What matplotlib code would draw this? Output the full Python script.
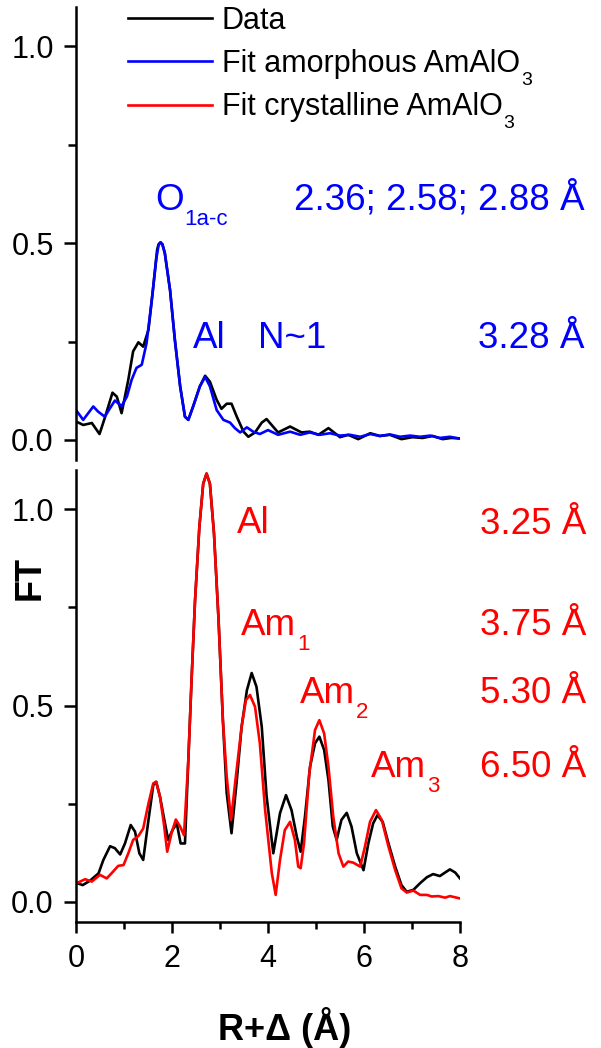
import numpy as np
import matplotlib
matplotlib.use("Agg")
import matplotlib.pyplot as plt
from matplotlib.ticker import MultipleLocator, FormatStrFormatter

plt.rcParams['font.family'] = ['Liberation Sans', 'DejaVu Sans']

# ---- Amorphous sample: data and fit (upper panel) ----
r_top_data = [0.00, 0.15, 0.33, 0.49, 0.60, 0.76, 0.85, 0.95, 1.09, 1.19, 1.30, 1.40,
              1.51, 1.61, 1.69, 1.72, 1.76, 1.80, 1.85, 1.96, 2.06, 2.17, 2.27, 2.34,
              2.44, 2.58, 2.69, 2.79, 2.93, 3.03, 3.14, 3.24, 3.35, 3.49, 3.59, 3.73,
              3.87, 3.97, 4.21, 4.46, 4.70, 4.87, 5.05, 5.26, 5.50, 5.67, 5.88, 6.13,
              6.33, 6.54, 6.78, 7.01, 7.22, 7.43, 7.64, 7.81, 8.00]
ft_top_data = [0.047, 0.038, 0.043, 0.015, 0.056, 0.120, 0.110, 0.068, 0.153, 0.225, 0.248, 0.237,
               0.280, 0.390, 0.483, 0.497, 0.502, 0.497, 0.475, 0.380, 0.254, 0.136, 0.059, 0.051,
               0.085, 0.136, 0.163, 0.148, 0.102, 0.079, 0.092, 0.092, 0.059, 0.021, 0.008, 0.019,
               0.044, 0.053, 0.019, 0.034, 0.019, 0.021, 0.013, 0.030, 0.007, 0.013, 0.002, 0.017,
               0.010, 0.013, 0.002, 0.007, 0.005, 0.010, 0.002, 0.005, 0.004]

r_top_fit = [0.00, 0.15, 0.36, 0.46, 0.60, 0.71, 0.81, 0.95, 1.06, 1.16, 1.26, 1.37,
             1.47, 1.58, 1.67, 1.72, 1.76, 1.80, 1.85, 1.96, 2.06, 2.17, 2.27, 2.34,
             2.44, 2.58, 2.69, 2.79, 2.93, 3.07, 3.21, 3.31, 3.42, 3.56, 3.69, 3.83,
             4.00, 4.21, 4.46, 4.67, 4.87, 5.08, 5.29, 5.50, 5.71, 5.92, 6.13, 6.33,
             6.54, 6.75, 6.96, 7.17, 7.38, 7.58, 7.79, 8.00]
ft_top_fit = [0.076, 0.051, 0.085, 0.072, 0.059, 0.081, 0.100, 0.086, 0.110, 0.153, 0.183, 0.191,
              0.246, 0.356, 0.458, 0.495, 0.502, 0.497, 0.475, 0.380, 0.254, 0.136, 0.059, 0.051,
              0.085, 0.136, 0.160, 0.136, 0.076, 0.051, 0.044, 0.030, 0.019, 0.032, 0.021, 0.015,
              0.025, 0.013, 0.021, 0.013, 0.019, 0.013, 0.017, 0.011, 0.013, 0.008, 0.015, 0.010,
              0.014, 0.008, 0.011, 0.008, 0.011, 0.005, 0.008, 0.003]

# ---- Crystalline sample: data and fit (lower panel) ----
r_bot_data = [0.00, 0.14, 0.29, 0.47, 0.57, 0.71, 0.81, 0.92, 1.02, 1.14, 1.23, 1.32,
              1.40, 1.51, 1.61, 1.67, 1.75, 1.84, 1.92, 2.01, 2.10, 2.18, 2.27, 2.34,
              2.41, 2.48, 2.57, 2.65, 2.72, 2.79, 2.875, 2.97, 3.06, 3.14, 3.24, 3.35,
              3.45, 3.56, 3.66, 3.76, 3.87, 3.97, 4.11, 4.25, 4.375, 4.49, 4.60, 4.68,
              4.77, 4.875, 4.98, 5.07, 5.17, 5.26, 5.35, 5.43, 5.53, 5.64, 5.74, 5.85,
              5.99, 6.09, 6.19, 6.28, 6.39, 6.51, 6.65, 6.78, 6.89, 7.03, 7.17, 7.31,
              7.44, 7.58, 7.69, 7.79, 7.90, 8.00]
ft_bot_data = [0.049, 0.043, 0.054, 0.073, 0.107, 0.142, 0.137, 0.121, 0.149, 0.196, 0.179, 0.124,
               0.107, 0.209, 0.298, 0.306, 0.268, 0.209, 0.158, 0.183, 0.200, 0.149, 0.149, 0.361,
               0.573, 0.768, 0.955, 1.065, 1.091, 1.065, 0.938, 0.718, 0.463, 0.277, 0.175, 0.310,
               0.446, 0.539, 0.583, 0.548, 0.446, 0.270, 0.124, 0.226, 0.272, 0.234, 0.166, 0.128,
               0.217, 0.344, 0.404, 0.421, 0.387, 0.310, 0.192, 0.158, 0.209, 0.227, 0.192, 0.124,
               0.081, 0.149, 0.200, 0.221, 0.204, 0.149, 0.090, 0.043, 0.026, 0.031, 0.048, 0.063,
               0.071, 0.066, 0.075, 0.083, 0.075, 0.060]

r_bot_fit = [0.00, 0.19, 0.33, 0.50, 0.64, 0.74, 0.88, 0.99, 1.09, 1.19, 1.30, 1.40,
             1.51, 1.61, 1.67, 1.75, 1.83, 1.90, 1.99, 2.08, 2.17, 2.25, 2.34, 2.41,
             2.48, 2.57, 2.65, 2.72, 2.79, 2.875, 2.97, 3.06, 3.14, 3.23, 3.33, 3.45,
             3.54, 3.625, 3.73, 3.83, 3.94, 4.08, 4.16, 4.25, 4.35, 4.46, 4.56, 4.63,
             4.68, 4.75, 4.86, 4.98, 5.07, 5.17, 5.26, 5.36, 5.47, 5.57, 5.67, 5.78,
             5.92, 6.02, 6.125, 6.25, 6.37, 6.51, 6.65, 6.78, 6.89, 7.03, 7.17, 7.31,
             7.41, 7.55, 7.69, 7.79, 8.00]
ft_bot_fit = [0.047, 0.058, 0.052, 0.069, 0.060, 0.073, 0.092, 0.094, 0.124, 0.158, 0.168, 0.187,
              0.251, 0.302, 0.306, 0.268, 0.200, 0.128, 0.175, 0.210, 0.192, 0.170, 0.361, 0.573,
              0.768, 0.955, 1.065, 1.091, 1.065, 0.938, 0.718, 0.463, 0.319, 0.209, 0.319, 0.446,
              0.514, 0.527, 0.497, 0.404, 0.234, 0.073, 0.018, 0.107, 0.183, 0.204, 0.158, 0.090,
              0.086, 0.149, 0.327, 0.438, 0.463, 0.429, 0.344, 0.217, 0.124, 0.090, 0.103, 0.100,
              0.090, 0.141, 0.204, 0.234, 0.209, 0.141, 0.081, 0.035, 0.024, 0.029, 0.018, 0.018,
              0.014, 0.015, 0.011, 0.015, 0.009]

legend_labels = ["Data", "Fit amorphous AmAlO", "Fit crystalline AmAlO"]

W, H = 601, 1048
BLUE, RED, BLACK = "#0000ff", "#ff0000", "#000000"
LW = 1.9
TXT = 26.5

fig = plt.figure(figsize=(W / 100, H / 100), dpi=100)
ax_top = fig.add_axes([76 / W, (H - 460) / H, 384 / W, 453 / H])
ax_bot = fig.add_axes([76 / W, (H - 922) / H, 384 / W, 452 / H])

l_data, = ax_top.plot(r_top_data, ft_top_data, color=BLACK, lw=LW, solid_joinstyle='round')
l_amor, = ax_top.plot(r_top_fit, ft_top_fit, color=BLUE, lw=LW, solid_joinstyle='round')
ax_bot.plot(r_bot_data, ft_bot_data, color=BLACK, lw=LW, solid_joinstyle='round')
l_crys, = ax_bot.plot(r_bot_fit, ft_bot_fit, color=RED, lw=LW, solid_joinstyle='round')

for ax in (ax_top, ax_bot):
    ax.set_xlim(0, 8)
    ax.set_ylim(-0.051, 1.10)
    ax.spines['top'].set_visible(False)
    ax.spines['right'].set_visible(False)
    for s in ax.spines.values():
        s.set_linewidth(1.8)
    ax.yaxis.set_major_locator(MultipleLocator(0.5))
    ax.yaxis.set_minor_locator(MultipleLocator(0.25))
    ax.yaxis.set_major_formatter(FormatStrFormatter('%.1f'))
    ax.tick_params(axis='y', which='major', direction='out', length=9, width=1.8,
                   pad=7, labelsize=22)
    ax.tick_params(axis='y', which='minor', direction='out', length=6, width=1.8)

ax_top.spines['bottom'].set_visible(False)
ax_top.tick_params(axis='x', which='both', bottom=False, labelbottom=False)

ax_bot.xaxis.set_major_locator(MultipleLocator(2))
ax_bot.xaxis.set_minor_locator(MultipleLocator(1))
ax_bot.xaxis.set_major_formatter(FormatStrFormatter('%d'))
ax_bot.tick_params(axis='x', which='major', direction='out', length=8, width=1.8,
                   pad=8, labelsize=22)
ax_bot.tick_params(axis='x', which='minor', direction='out', length=5, width=1.8)

fig.text(30 / W, 1 - 578 / H, "FT", rotation=90, weight='bold', size=26,
         ha='center', va='center')
fig.text(285 / W, 1 - 1040 / H, "R+Δ (Å)", weight='bold', size=26,
         ha='center', va='baseline')

leg = ax_top.legend([l_data, l_amor, l_crys], legend_labels, loc='upper left',
                    bbox_to_anchor=(128 / W, 1 - 6 / H), bbox_transform=fig.transFigure,
                    frameon=False, fontsize=22, handlelength=2.75, handletextpad=0.32,
                    labelspacing=0.43, borderpad=0, borderaxespad=0)

# (base text, subscript, colour, size) pairs, placed once the layout is known
subs = [(t, "3", BLACK, 14) for t in leg.get_texts()[1:]]


def label(x, y, text, color, ha='left', sub=None, subsize=16):
    t = fig.text(x / W, 1 - y / H, text, color=color, size=TXT, ha=ha, va='baseline')
    if sub:
        subs.append((t, sub, color, subsize))
    return t


# upper panel annotations
label(155, 210, "O", BLUE, sub="1a-c")
label(585, 210, "2.36; 2.58; 2.88 Å", BLUE, ha='right')
label(193, 348, "Al", BLUE)
label(258, 348, "N~1", BLUE)
label(585, 348, "3.28 Å", BLUE, ha='right')

# lower panel annotations
label(237, 533, "Al", RED)
label(586, 534, "3.25 Å", RED, ha='right')
label(241, 635, "Am", RED, sub="1")
label(586, 635, "3.75 Å", RED, ha='right')
label(300, 703, "Am", RED, sub="2")
label(586, 703, "5.30 Å", RED, ha='right')
label(371, 777, "Am", RED, sub="3")
label(586, 777, "6.50 Å", RED, ha='right')

# subscripts hang from the baseline of the text they follow
fig.canvas.draw()
for base, sub, color, size in subs:
    bb = base.get_window_extent()
    desc = 0.212 * base.get_fontsize() * fig.dpi / 72
    fig.text((bb.x1 + 1) / W, (bb.y0 + desc + 1) / H, sub, color=color,
             size=size, ha='left', va='top')

fig.savefig("out.png", dpi=100)
